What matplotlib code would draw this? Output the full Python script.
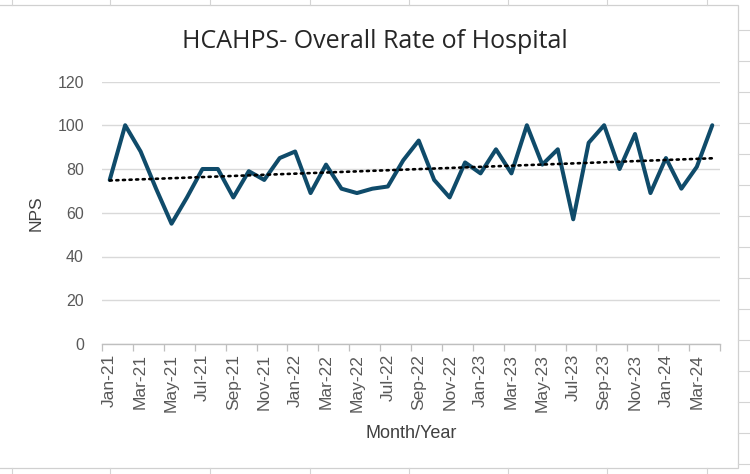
import matplotlib
matplotlib.use("Agg")
import matplotlib.pyplot as plt
import numpy as np
from matplotlib.lines import Line2D
from matplotlib.patches import Rectangle

months = ["Jan-21", "Feb-21", "Mar-21", "Apr-21", "May-21", "Jun-21", "Jul-21", "Aug-21",
          "Sep-21", "Oct-21", "Nov-21", "Dec-21", "Jan-22", "Feb-22", "Mar-22", "Apr-22",
          "May-22", "Jun-22", "Jul-22", "Aug-22", "Sep-22", "Oct-22", "Nov-22", "Dec-22",
          "Jan-23", "Feb-23", "Mar-23", "Apr-23", "May-23", "Jun-23", "Jul-23", "Aug-23",
          "Sep-23", "Oct-23", "Nov-23", "Dec-23", "Jan-24", "Feb-24", "Mar-24", "Apr-24"]
nps = [75, 100, 88, 71, 55, 67, 80, 80, 67, 79, 75, 85, 88, 69, 82, 71,
       69, 71, 72, 84, 93, 75, 67, 83, 78, 89, 78, 100, 82, 89, 57, 92,
       100, 80, 96, 69, 85, 71, 81, 100]
yticks = [0, 20, 40, 60, 80, 100, 120]

W, H = 750, 474
fig = plt.figure(figsize=(7.5, 4.74), dpi=100)
fig.patch.set_facecolor("white")

def px(x, y):
    return x / W, 1 - y / H

# Excel sheet cell lines outside the chart area
cell_col = "#D4D4D4"
for cx in [12, 110, 210, 310, 409, 508, 607, 707]:
    x0, y0 = px(cx, 0)
    x1, y1 = px(cx, 5)
    fig.add_artist(Line2D([x0, x1], [y0, y1], color=cell_col, lw=0.8))
    x0, y0 = px(cx, 468)
    x1, y1 = px(cx, 474)
    fig.add_artist(Line2D([x0, x1], [y0, y1], color=cell_col, lw=0.8))
for ry in [30, 61, 92, 123, 154, 185, 216, 247, 278, 309, 340, 371, 402, 433, 464]:
    x0, y0 = px(738, ry)
    x1, y1 = px(750, ry)
    fig.add_artist(Line2D([x0, x1], [y0, y1], color=cell_col, lw=0.8))
# chart area border
bx0, by0 = px(-2, 468)
bx1, by1 = px(738, 5)
fig.add_artist(Rectangle((bx0, by0), bx1 - bx0, by1 - by0, transform=fig.transFigure,
                         fill=False, edgecolor="#D0D0D0", lw=0.9))

left, right = 102 / W, 720 / W
bottom, top = (H - 344) / H, (H - 81.5) / H
ax = fig.add_axes([left, bottom, right - left, top - bottom])

x = np.arange(len(months))
ax.plot(x, nps, color="#0F4B6A", lw=2.9, solid_joinstyle="round",
        solid_capstyle="round", zorder=3)

coef = np.polyfit(x, nps, 1)
ax.plot(x, np.polyval(coef, x), color="black", lw=1.9, linestyle=(0, (0.8, 1.7)),
        dash_capstyle="round", zorder=4)

ax.set_xlim(-0.5, len(months) - 0.5)
ax.set_ylim(0, 120)
ax.set_yticks(yticks)
ax.set_yticklabels([str(v) for v in yticks])
ax.grid(axis="y", color="#D9D9D9", lw=1.0)
ax.set_axisbelow(True)

ax.set_xticks(x[::2])
ax.set_xticklabels(months[::2], rotation=90)
ax.set_xticks(np.arange(-0.5, len(months), 2), minor=True)
ax.tick_params(axis="x", which="major", length=0, pad=7, labelsize=12.5, labelcolor="#595959")
ax.tick_params(axis="x", which="minor", length=5, color="#BFBFBF", width=0.9)
ax.tick_params(axis="y", length=0, pad=13, labelsize=11.5, labelcolor="#595959")
for lab in ax.get_xticklabels() + ax.get_yticklabels():
    lab.set_fontfamily("Liberation Sans")

for s in ["top", "right", "left"]:
    ax.spines[s].set_visible(False)
ax.spines["bottom"].set_color("#BFBFBF")
ax.spines["bottom"].set_linewidth(1.0)

fig.text(375 / W, 1 - 41 / H, "HCAHPS- Overall Rate of Hospital", ha="center", va="center",
         fontsize=18, color="#262626", family="Open Sans")
fig.text(36 / W, 1 - 213 / H, "NPS", ha="center", va="center", rotation=90,
         fontsize=12.5, color="#404040", family="Liberation Sans")
fig.text(411 / W, 1 - 433 / H, "Month/Year", ha="center", va="center",
         fontsize=13, color="#404040", family="Liberation Sans")

fig.savefig("out.png", dpi=100, facecolor="white")
